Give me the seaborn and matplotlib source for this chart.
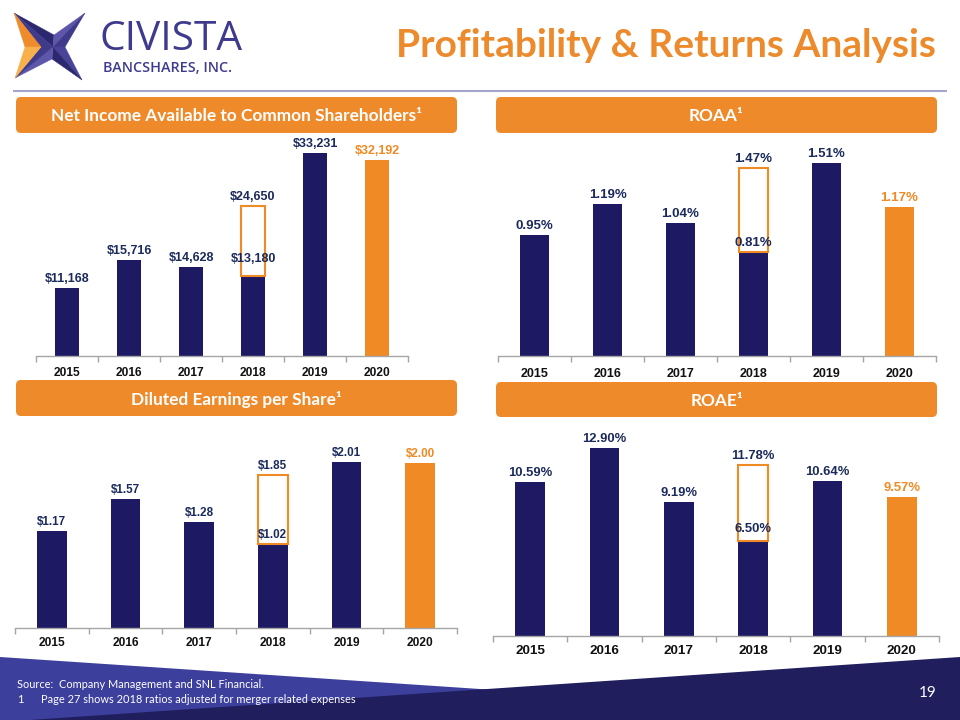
import matplotlib
matplotlib.use("Agg")
import matplotlib.pyplot as plt
import seaborn as sns
import numpy as np
from matplotlib.patches import FancyBboxPatch, Polygon

# ---------------- data ----------------
years = ["2015", "2016", "2017", "2018", "2019", "2020"]
net_income = [11168, 15716, 14628, 13180, 33231, 32192]
net_income_adj_2018 = 24650
roaa = [0.95, 1.19, 1.04, 0.81, 1.51, 1.17]
roaa_adj_2018 = 1.47
eps = [1.17, 1.57, 1.28, 1.02, 2.01, 2.00]
eps_adj_2018 = 1.85
roae = [10.59, 12.90, 9.19, 6.50, 10.64, 9.57]
roae_adj_2018 = 11.78

title = "Profitability & Returns Analysis"
headers = ["Net Income Available to Common Shareholders\u00b9", "ROAA\u00b9",
           "Diluted Earnings per Share\u00b9", "ROAE\u00b9"]
source_note = "Source:  Company Management and SNL Financial."
foot_num = "1"
foot_note = "Page 27 shows 2018 ratios adjusted for merger related expenses"
page_no = "19"

# ---------------- style ----------------
NAVY = "#1D1A63"
ORANGE = "#EF8A25"
HDR_ORANGE = "#EE8A2A"
LBL_NAVY = "#1B2A5C"
LOGO = "#3E3A8E"
W, H = 960, 720

sns.set_theme(style="white")
plt.rcParams["font.family"] = ["Liberation Sans", "DejaVu Sans"]

fig = plt.figure(figsize=(9.6, 7.2), dpi=100)
fig.patch.set_facecolor("white")
renderer = fig.canvas.get_renderer()

bg = fig.add_axes([0, 0, 1, 1], zorder=0)
bg.set_xlim(0, W)
bg.set_ylim(H, 0)
bg.axis("off")


def fit_width(t, target):
    bb = t.get_window_extent(renderer)
    t.set_fontsize(t.get_fontsize() * target / bb.width)
    return t.get_fontsize()


# ---- logo ----
C = (53, 47)
Tp, Rp, Bp, Lp = (54, 35), (65, 47), (52, 59), (41, 47)
TL, TR, BR, BL = (14, 13), (85, 13), (82, 80), (15, 78)
shapes = [
    ([TL, Tp, C], "#2B2870"), ([TL, C, Lp], "#3F3A8A"),
    ([TR, Tp, C], "#5D56AA"), ([TR, C, Rp], "#3F3A8A"),
    ([BR, Rp, C], "#4A4499"), ([BR, C, Bp], "#2B2870"),
    ([BL, Bp, C], "#5D56AA"), ([BL, C, Lp], "#3F3A8A"),
    ([TL, Lp, (25, 47)], "#EE8B2B"), ([(25, 47), Lp, BL], "#F7B04B"),
]
for pts, col in shapes:
    bg.add_patch(Polygon(pts, closed=True, facecolor=col, edgecolor=col, lw=0.3))

t = bg.text(99, 50, "CIVISTA", color=LOGO, fontsize=30, family=["Open Sans"],
            ha="left", va="baseline")
fit_width(t, 143)
t = bg.text(103, 72, "BANCSHARES, INC.", color=LOGO, fontsize=11, family=["Open Sans"],
            fontweight="semibold", ha="left", va="baseline")
fit_width(t, 129)

# ---- title ----
t = bg.text(936, 57, title, color="#EC8A2C", fontsize=26, fontweight="bold",
            family=["Lato"], ha="right", va="baseline")
fit_width(t, 541)

# header rule
bg.plot([13, 947], [91, 91], color="#A3A5CD", lw=1.5, solid_capstyle="butt")

# ---- header boxes ----
boxes = [(16, 97, 457, 133), (496, 97, 937, 133), (16, 380, 457, 416), (496, 382, 937, 417)]
hdr_fs = None
for (l, tp, r, b), txt in zip(boxes, headers):
    bg.add_patch(FancyBboxPatch((l + 5, tp + 5), r - l - 10, b - tp - 10,
                                boxstyle="round,pad=5", facecolor=HDR_ORANGE, edgecolor="none"))
    tt = bg.text((l + r) / 2, (tp + b) / 2 + 1, txt, color="white", fontsize=13,
                 fontweight="bold", family=["Lato", "DejaVu Sans"], ha="center", va="center")
    if hdr_fs is None:
        hdr_fs = fit_width(tt, 371)
    else:
        tt.set_fontsize(hdr_fs)

# ---- footer shapes ----
bg.add_patch(Polygon([(0, 657), (W, 721), (W, H), (0, H)], closed=True,
                     facecolor="#3C3F9C", edgecolor="none"))
bg.add_patch(Polygon([(0, 722), (W, 657), (W, H), (0, H)], closed=True,
                     facecolor="#201E5C", edgecolor="none"))
t = bg.text(17, 688, source_note, color="white", fontsize=8.5, family=["Lato"],
            ha="left", va="baseline")
fit_width(t, 246)
t2 = bg.text(17, 703, foot_num, color="white", fontsize=t.get_fontsize(), family=["Lato"],
             ha="left", va="baseline")
t3 = bg.text(41, 703, foot_note, color="white", fontsize=8.5, family=["Lato"],
             ha="left", va="baseline")
fit_width(t3, 313)
bg.text(937, 697, page_no, color="white", fontsize=11, family=["Lato"], ha="right", va="baseline")

# ---------------- panels ----------------
def px_rect(l, t_, r, b):
    return [l / W, 1 - b / H, (r - l) / W, (b - t_) / H]


panels = [
    dict(vals=net_income, adj=net_income_adj_2018, fmt="${:,.0f}",
         rect=(36, 140, 408, 356), ymax=35412, lfs=9.0, tfs=8.6, pad=8.0, goff=10.0),
    dict(vals=roaa, adj=roaa_adj_2018, fmt="{:.2f}%",
         rect=(498, 140, 936, 355.7), ymax=1.6928, lfs=9.5, tfs=9.0, pad=9.0, goff=5.0),
    dict(vals=eps, adj=eps_adj_2018, fmt="${:.2f}",
         rect=(15, 430, 457, 627.7), ymax=2.4025, lfs=8.4, tfs=8.6, pad=7.0, goff=4.3),
    dict(vals=roae, adj=roae_adj_2018, fmt="{:.2f}%",
         rect=(493, 430, 939, 635.7), ymax=14.16, lfs=9.4, tfs=9.7, pad=6.5, goff=7.0),
]

colors = [NAVY] * 5 + [ORANGE]
for p in panels:
    ax = fig.add_axes(px_rect(*p["rect"]), zorder=2)
    ax.patch.set_alpha(0)
    sns.barplot(x=years, y=p["vals"], hue=years, palette=colors, legend=False,
                width=0.4, saturation=1, linewidth=0, ax=ax)
    # adjusted 2018 outline box
    g18 = p["vals"][3]
    ax.bar(3, p["adj"] - g18, bottom=g18, width=0.4, fill=False,
           edgecolor=ORANGE, linewidth=1.5, zorder=3)
    ax.set_xlim(-0.5, 5.5)
    ax.set_ylim(0, p["ymax"])
    ax.set_yticks([])
    ax.set_ylabel("")
    for s in ["top", "right", "left"]:
        ax.spines[s].set_visible(False)
    ax.spines["bottom"].set_color("#A6A6A6")
    ax.spines["bottom"].set_linewidth(1.0)
    ax.set_xticks(range(6))
    ax.set_xticklabels(years, fontsize=p["tfs"], fontweight="bold", color="#111111")
    ax.set_xticks(np.arange(-0.5, 6, 1), minor=True)
    ax.tick_params(axis="x", which="major", length=0, pad=p["pad"])
    ax.tick_params(axis="x", which="minor", length=4, width=1, color="#A6A6A6",
                   direction="out", bottom=True)
    # value labels
    for i, v in enumerate(p["vals"]):
        col = ORANGE if i == 5 else LBL_NAVY
        off = p["goff"] if i == 3 else 4.3
        ax.annotate(p["fmt"].format(v), xy=(i, v), xytext=(0, off),
                    textcoords="offset points", ha="center", va="baseline",
                    fontsize=p["lfs"], fontweight="bold", color=col, zorder=5)
    ax.annotate(p["fmt"].format(p["adj"]), xy=(3, p["adj"]), xytext=(0, 4.3),
                textcoords="offset points", ha="center", va="baseline",
                fontsize=p["lfs"], fontweight="bold", color=LBL_NAVY, zorder=5)

fig.savefig("out.png", dpi=100, facecolor="white")
